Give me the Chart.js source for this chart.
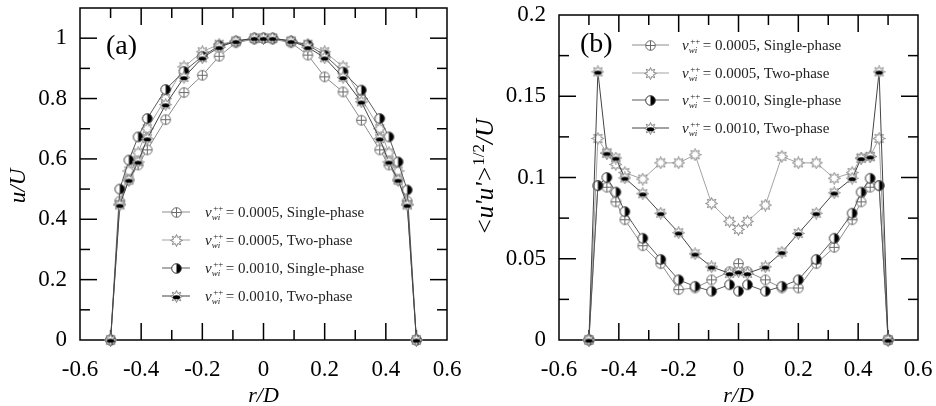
<!DOCTYPE html>
<html>
<head>
<meta charset="utf-8">
<script src="https://cdn.jsdelivr.net/npm/chart.js@4.4.1/dist/chart.umd.min.js"></script>
<style>
  html, body { margin: 0; padding: 0; background: #fff; }
  #wrap { position: relative; width: 936px; height: 406px; overflow: hidden; }
  #meanCanvas { position: absolute; left: 0; top: 0; }
  #rmsCanvas { position: absolute; left: 466px; top: 0; }
</style>
</head>
<body>
<div id="wrap">
  <canvas id="meanCanvas" width="466" height="406"></canvas>
  <canvas id="rmsCanvas" width="470" height="406"></canvas>
</div>
<script>
// radial measuring stations, r/D
const radialPos = [-0.5, -0.47, -0.44, -0.41, -0.38, -0.32, -0.26, -0.2, -0.145, -0.09, -0.03, 0,
  0.03, 0.09, 0.145, 0.2, 0.26, 0.32, 0.38, 0.41, 0.44, 0.47, 0.5];

// mean streamwise velocity u/U
const meanSingle0005 = [0, 0.46, 0.53, 0.58, 0.63, 0.73, 0.82, 0.877, 0.94, 0.985, 0.997, 1.0,
  0.997, 0.985, 0.944, 0.872, 0.822, 0.728, 0.63, 0.58, 0.53, 0.46, 0];
const meanTwo0005 = [0, 0.45, 0.56, 0.62, 0.70, 0.80, 0.905, 0.955, 0.98, 0.99, 1.0, 1.0,
  1.0, 0.99, 0.98, 0.955, 0.905, 0.80, 0.70, 0.62, 0.56, 0.45, 0];
const meanSingle0010 = [0, 0.50, 0.596, 0.673, 0.734, 0.83, 0.89, 0.94, 0.975, 0.99, 1.0, 1.0,
  1.0, 0.99, 0.977, 0.944, 0.888, 0.828, 0.734, 0.673, 0.59, 0.497, 0];
const meanTwo0010 = [0, 0.447, 0.53, 0.59, 0.667, 0.78, 0.87, 0.935, 0.97, 0.99, 1.0, 1.0,
  1.0, 0.99, 0.97, 0.935, 0.87, 0.789, 0.667, 0.59, 0.53, 0.447, 0];

// streamwise turbulence intensity <u'u'>^1/2 / U
const rmsSingle0005 = [0, 0.095, 0.094, 0.085, 0.074, 0.058, 0.047, 0.031, 0.032, 0.037, 0.042, 0.047,
  0.042, 0.037, 0.032, 0.032, 0.047, 0.057, 0.074, 0.085, 0.094, 0.095, 0];
const rmsTwo0005 = [0, 0.124, 0.115, 0.108, 0.103, 0.099, 0.109, 0.109, 0.114, 0.084, 0.073, 0.068,
  0.073, 0.083, 0.113, 0.109, 0.109, 0.0995, 0.103, 0.112, 0.113, 0.124, 0];
const rmsSingle0010 = [0, 0.095, 0.100, 0.091, 0.079, 0.0626, 0.0496, 0.037, 0.033, 0.030, 0.034, 0.030,
  0.034, 0.030, 0.033, 0.037, 0.0496, 0.0626, 0.078, 0.091, 0.0995, 0.095, 0];
const rmsTwo0010 = [0, 0.165, 0.115, 0.112, 0.0997, 0.090, 0.078, 0.066, 0.053, 0.045, 0.041, 0.042,
  0.041, 0.045, 0.054, 0.0656, 0.078, 0.0906, 0.0995, 0.1118, 0.1128, 0.165, 0];

const caseLabels = ['0.0005, Single-phase', '0.0005, Two-phase', '0.0010, Single-phase', '0.0010, Two-phase'];
const xTicks = [-0.6, -0.4, -0.2, 0, 0.2, 0.4, 0.6];

const SERIF = "'Liberation Serif', 'Times New Roman', serif";

// small canvases used as point styles
function starPath(g, m, outer, inner, n) {
  g.beginPath();
  for (let i = 0; i < 2 * n; i++) {
    const a = -Math.PI / 2 + i * Math.PI / n;
    const rr = i % 2 ? inner : outer;
    g.lineTo(m + rr * Math.cos(a), m + rr * Math.sin(a));
  }
  g.closePath();
}

function makeMarker(kind) {
  const size = 13;
  const c = document.createElement('canvas');
  c.width = size;
  c.height = size;
  const g = c.getContext('2d');
  const m = size / 2;
  g.lineWidth = 1;
  if (kind === 'crossCircle') {
    g.beginPath();
    g.arc(m, m, 4.8, 0, Math.PI * 2);
    g.fillStyle = '#fff';
    g.fill();
    g.strokeStyle = '#6a6a6a';
    g.stroke();
    g.beginPath();
    g.moveTo(m, m - 4.8); g.lineTo(m, m + 4.8);
    g.moveTo(m - 4.8, m); g.lineTo(m + 4.8, m);
    g.stroke();
  } else if (kind === 'halfCircle') {
    g.beginPath();
    g.arc(m, m, 4.8, 0, Math.PI * 2);
    g.fillStyle = '#fff';
    g.fill();
    g.beginPath();
    g.arc(m, m, 4.8, -Math.PI / 2, Math.PI / 2);
    g.closePath();
    g.fillStyle = '#000';
    g.fill();
    g.beginPath();
    g.arc(m, m, 4.8, 0, Math.PI * 2);
    g.strokeStyle = '#333';
    g.stroke();
  } else {
    starPath(g, m, 6, 3.2, 8);
    g.fillStyle = '#fff';
    g.fill();
    g.strokeStyle = '#858585';
    g.stroke();
    if (kind === 'solidStar') {
      g.beginPath();
      g.ellipse(m, m + 0.8, 3.6, 2, 0, 0, Math.PI * 2);
      g.fillStyle = '#000';
      g.fill();
    }
  }
  return c;
}

const markers = {
  crossCircle: makeMarker('crossCircle'),
  hollowStar: makeMarker('hollowStar'),
  halfCircle: makeMarker('halfCircle'),
  solidStar: makeMarker('solidStar')
};

function series(values, marker, lineColor, order) {
  return {
    data: radialPos.map((r, i) => ({ x: r, y: values[i] })),
    showLine: true,
    borderColor: lineColor,
    borderWidth: 1,
    pointStyle: marker,
    pointRadius: 5,
    pointHoverRadius: 5,
    clip: false,
    order: order
  };
}

function buildDatasets(s1, s2, s3, s4) {
  return [
    series(s1, markers.crossCircle, '#8c8c8c', 4),
    series(s2, markers.hollowStar, '#a3a3a3', 3),
    series(s3, markers.halfCircle, '#5a5a5a', 2),
    series(s4, markers.solidStar, '#444', 1)
  ];
}

// frame with inward ticks on all four sides
const frameTicks = {
  id: 'frameTicks',
  beforeDatasetsDraw(chart, args, opts) {
    const { ctx, chartArea: a, scales: { x, y } } = chart;
    ctx.save();
    ctx.strokeStyle = '#000';
    ctx.lineWidth = 1.5;
    ctx.strokeRect(a.left, a.top, a.right - a.left, a.bottom - a.top);
    const seg = (x0, y0, x1, y1) => { ctx.beginPath(); ctx.moveTo(x0, y0); ctx.lineTo(x1, y1); ctx.stroke(); };
    const nx = Math.round((x.max - x.min) / opts.xMinor);
    for (let i = 1; i < nx; i++) {
      const px = x.getPixelForValue(x.min + i * opts.xMinor);
      const len = i % 2 === 0 ? 17 : 10;
      seg(px, a.bottom, px, a.bottom - len);
      seg(px, a.top, px, a.top + len);
    }
    const ny = Math.floor((y.max - y.min) / opts.yMinor + 1e-6);
    for (let i = 1; i <= ny; i++) {
      const py = y.getPixelForValue(y.min + i * opts.yMinor);
      if (Math.abs(py - a.top) < 1) continue;
      const len = i % 2 === 0 ? 17 : 10;
      seg(a.left, py, a.left + len, py);
      seg(a.right, py, a.right - len, py);
    }
    ctx.restore();
  },
  afterDraw(chart, args, opts) {
    const { ctx, chartArea: a } = chart;
    ctx.save();
    ctx.fillStyle = '#000';
    ctx.textAlign = 'left';
    ctx.textBaseline = 'alphabetic';

    // panel tag
    ctx.font = '28px ' + SERIF;
    ctx.fillText(opts.tag, opts.tagX, opts.tagY);

    // x title
    ctx.textAlign = 'center';
    ctx.font = 'italic 22px ' + SERIF;
    ctx.fillText('r/D', (a.left + a.right) / 2, 402);

    // y title, rotated
    ctx.translate(opts.yTitleX, opts.yTitleY);
    ctx.rotate(-Math.PI / 2);
    ctx.textAlign = 'left';
    const parts = opts.yTitle;
    let total = 0;
    parts.forEach(p => { ctx.font = p.font; total += ctx.measureText(p.text).width; });
    let cx = -total / 2;
    parts.forEach(p => {
      ctx.font = p.font;
      ctx.fillText(p.text, cx, 7 + (p.dy || 0));
      cx += ctx.measureText(p.text).width;
    });
    ctx.setTransform(1, 0, 0, 1, 0, 0);

    // legend
    const lg = opts.legend;
    chart.data.datasets.forEach((ds, i) => {
      const yy = lg.rows[i];
      ctx.strokeStyle = ds.borderColor;
      ctx.lineWidth = 1;
      ctx.beginPath();
      ctx.moveTo(lg.lineFrom, yy);
      ctx.lineTo(lg.lineTo, yy);
      ctx.stroke();
      const img = ds.pointStyle;
      ctx.drawImage(img, Math.round((lg.lineFrom + lg.lineTo) / 2 - img.width / 2), Math.round(yy - img.height / 2));
      ctx.fillStyle = '#222';
      const base = yy + 5;
      let tx = lg.textX;
      ctx.font = 'italic 15px ' + SERIF;
      ctx.fillText('v', tx, base);
      tx += ctx.measureText('v').width;
      ctx.font = 'italic 9px ' + SERIF;
      ctx.fillText('wi', tx, base + 3);
      const wSub = ctx.measureText('wi').width;
      ctx.font = '9px ' + SERIF;
      ctx.fillText('++', tx + 1.5, base - 6);
      const wSup = ctx.measureText('++').width + 1.5;
      tx += Math.max(wSub, wSup) + 2.5;
      ctx.font = '15px ' + SERIF;
      ctx.fillText('= ' + caseLabels[i], tx, base);
    });
    ctx.restore();
  }
};

const fmt = v => String(+(+v).toFixed(3));

function panelConfig(datasets, cfg) {
  return {
    type: 'scatter',
    data: { datasets: datasets },
    plugins: [frameTicks],
    options: {
      responsive: false,
      animation: false,
      events: [],
      layout: { padding: { top: cfg.padTop, right: cfg.padRight, left: 0, bottom: 0 } },
      plugins: {
        legend: { display: false },
        tooltip: { enabled: false },
        frameTicks: cfg.frame
      },
      scales: {
        x: {
          type: 'linear',
          min: -0.6,
          max: 0.6,
          afterBuildTicks: s => { s.ticks = xTicks.map(v => ({ value: v })); },
          ticks: { font: { family: SERIF, size: 23 }, color: '#000', padding: 16, maxRotation: 0, callback: fmt },
          grid: { display: false, drawTicks: false },
          border: { display: false },
          afterFit: s => { s.height = 66; s.paddingLeft = 0; s.paddingRight = 0; }
        },
        y: {
          type: 'linear',
          min: 0,
          max: cfg.yMax,
          afterBuildTicks: s => { s.ticks = cfg.yTicks.map(v => ({ value: v })); },
          ticks: { font: { family: SERIF, size: 23 }, color: '#000', padding: 13, callback: fmt },
          grid: { display: false, drawTicks: false },
          border: { display: false },
          afterFit: s => { s.width = cfg.yWidth; s.paddingTop = 0; s.paddingBottom = 0; }
        }
      }
    }
  };
}

new Chart(document.getElementById('meanCanvas'), panelConfig(
  buildDatasets(meanSingle0005, meanTwo0005, meanSingle0010, meanTwo0010),
  {
    padTop: 8, padRight: 19, yWidth: 80, yMax: 1.1,
    yTicks: [0, 0.2, 0.4, 0.6, 0.8, 1],
    frame: {
      xMinor: 0.1, yMinor: 0.1,
      tag: '(a)', tagX: 106, tagY: 54,
      yTitleX: 18, yTitleY: 186,
      yTitle: [{ text: 'u/U', font: 'italic 23px ' + SERIF }],
      legend: { rows: [212, 240, 268, 296], lineFrom: 162, lineTo: 190, textX: 205 }
    }
  }
));

new Chart(document.getElementById('rmsCanvas'), panelConfig(
  buildDatasets(rmsSingle0005, rmsTwo0005, rmsSingle0010, rmsTwo0010),
  {
    padTop: 15, padRight: 18, yWidth: 93, yMax: 0.2,
    yTicks: [0, 0.05, 0.1, 0.15, 0.2],
    frame: {
      xMinor: 0.1, yMinor: 0.025,
      tag: '(b)', tagX: 114, tagY: 52,
      yTitleX: 20, yTitleY: 177,
      yTitle: [
        { text: "<u'u'>", font: 'italic 25px ' + SERIF },
        { text: '1/2', font: '17px ' + SERIF, dy: -9 },
        { text: '/U', font: 'italic 25px ' + SERIF }
      ],
      legend: { rows: [45, 73, 100, 128], lineFrom: 166, lineTo: 203, textX: 216 }
    }
  }
));
</script>
</body>
</html>
